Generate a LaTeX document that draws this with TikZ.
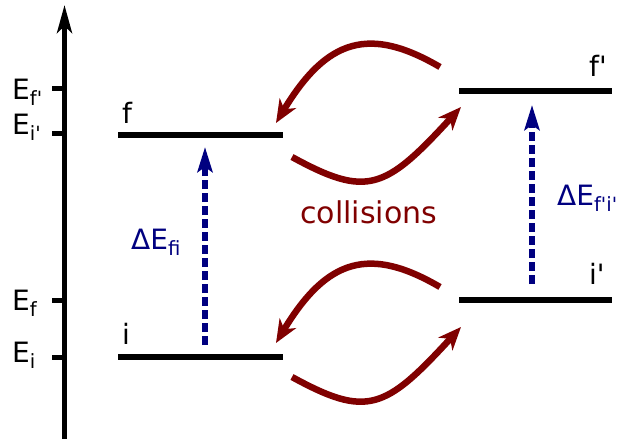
\documentclass[tikz,border=0pt]{standalone}
\usepackage{fontspec}
\setmainfont{DejaVu Sans}[Ligatures=TeXOff]
\usetikzlibrary{arrows.meta}
\definecolor{cDark}{HTML}{800000}
\definecolor{cNavy}{HTML}{000080}
\tikzset{
  axisline/.style={line width=5pt, -{Stealth[length=28pt,width=15pt,inset=7pt]}},
  tickmark/.style={line width=5pt},
  level/.style={line width=5.5pt},
  elab/.style={font=\fontsize{28}{30}\selectfont, anchor=base west, inner sep=0pt},
  transit/.style={cNavy, line width=5.5pt, dash pattern=on 9pt off 4pt,
                  -{Stealth[length=25pt,width=15pt,inset=5pt]}},
  translab/.style={elab, text=cNavy},
  collide/.style={cDark, line width=6.5pt, -{Stealth[length=23pt,width=19pt,inset=7pt]}},
}
\newcommand{\sub}[1]{\textsubscript{#1}}

\begin{document}
\begin{tikzpicture}[x=1pt, y=-1pt]
  \useasboundingbox (0,0) rectangle (619,439);
  % energy axis
  \coordinate (ax-bot) at (64.5,439);
  \coordinate (ax-top) at (64.5,5);
  \draw[axisline] (ax-bot) -- (ax-top);
  \foreach \y in {88,133,300,357}
    \draw[tickmark] (52,\y) -- (64.5,\y);
  \node[elab] (lEfp) at (12,99)  {E\sub{f'}};
  \node[elab] (lEip) at (12,134) {E\sub{i'}};
  \node[elab] (lEf)  at (12,310) {E\sub{f}};
  \node[elab] (lEi)  at (12,362) {E\sub{i}};
  % levels of the first molecule
  \coordinate (f-l) at (118,135); \coordinate (f-r) at (283,135);
  \coordinate (i-l) at (118,357); \coordinate (i-r) at (283,357);
  \draw[level] (f-l) -- (f-r);
  \draw[level] (i-l) -- (i-r);
  \node[elab] (lf) at (122,123) {f};
  \node[elab] (li) at (122,344) {i};
  % levels of the second molecule
  \coordinate (fp-l) at (459,91);  \coordinate (fp-r) at (612,91);
  \coordinate (ip-l) at (459,300); \coordinate (ip-r) at (612,300);
  \draw[level] (fp-l) -- (fp-r);
  \draw[level] (ip-l) -- (ip-r);
  \node[elab] (lfp) at (589,76)  {f'};
  \node[elab] (lip) at (589,284) {i'};
  % transitions
  \coordinate (fi-bot) at (205,345); \coordinate (fi-top) at (205,147);
  \coordinate (fpip-bot) at (532,284); \coordinate (fpip-top) at (532,105);
  \draw[transit] (fi-bot) -- (fi-top);
  \draw[transit] (fpip-bot) -- (fpip-top);
  \node[translab] (dfi) at (131,249) {ΔE\sub{fi}};
  \node[translab] (dfpip) at (557,205) {ΔE\sub{f'i'}};
  % collisions
  \node[elab, font=\fontsize{30}{32}\selectfont, text=cDark] (coll) at (300,223) {collisions};
  \foreach \dy in {0,220} {
    \draw[collide] (440,67+\dy) .. controls (370,26+\dy) and (327,38+\dy) .. (276,123+\dy);
    \draw[collide] (292,157+\dy) .. controls (367,198+\dy) and (385,190+\dy) .. (461,107+\dy);
  }
\end{tikzpicture}
\end{document}
